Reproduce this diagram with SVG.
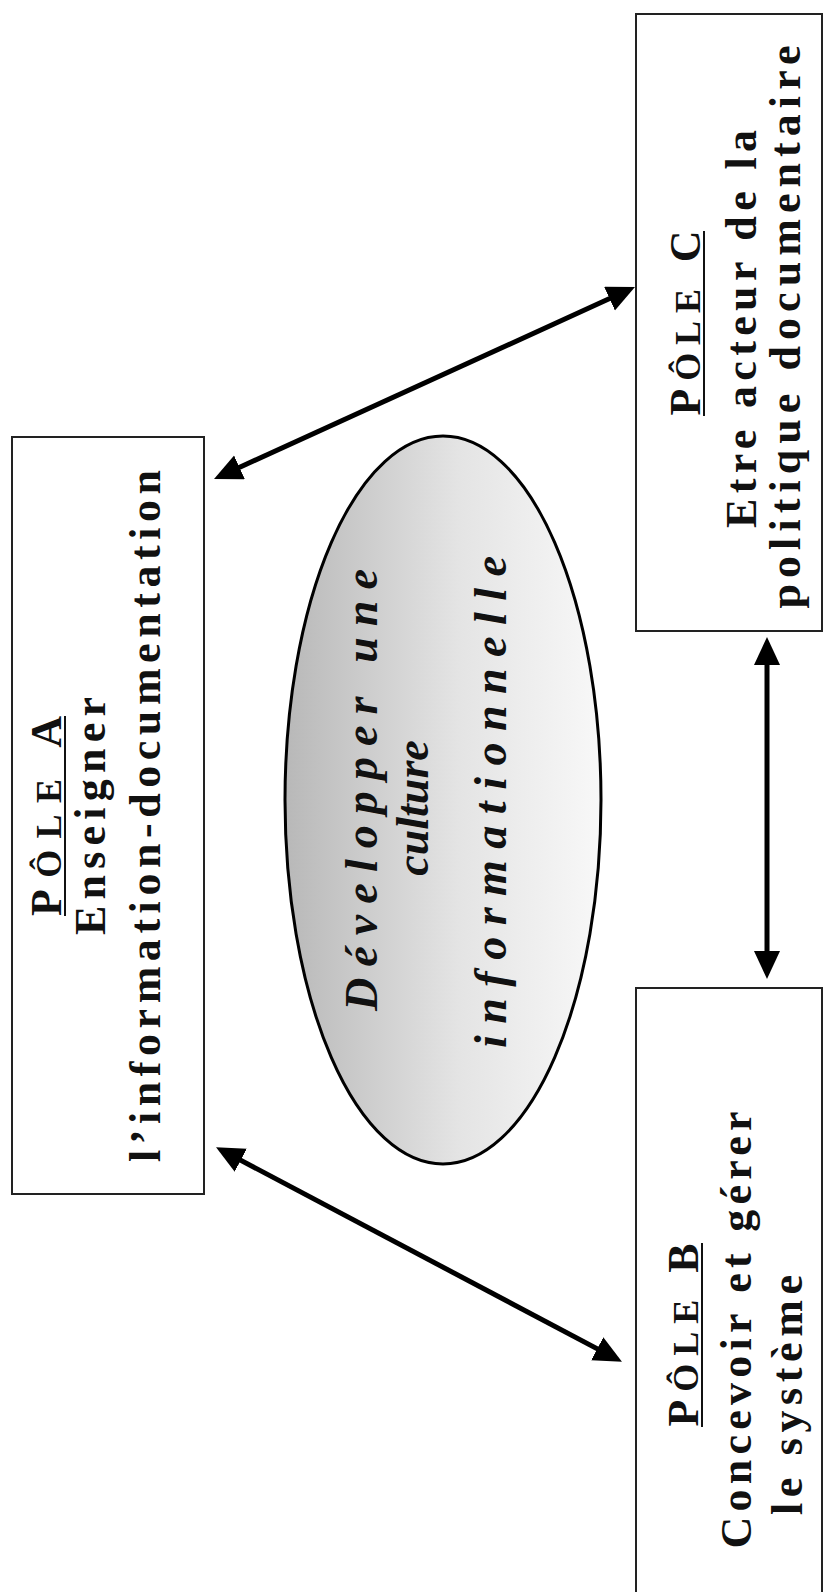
<svg xmlns="http://www.w3.org/2000/svg" width="823" height="1592" viewBox="0 0 823 1592">
<defs>
<linearGradient id="g" x1="0" y1="0" x2="1" y2="0">
<stop offset="0" stop-color="#b8b8b8"/>
<stop offset="0.55" stop-color="#e4e4e4"/>
<stop offset="1" stop-color="#f8f8f8"/>
</linearGradient>
<marker id="ah" markerUnits="userSpaceOnUse" markerWidth="30" markerHeight="28" refX="20" refY="13" orient="auto-start-reverse">
<path d="M0,0 L28,13 L0,26 z" fill="#000"/>
</marker>
<style>
.box{fill:#fff;stroke:#222;stroke-width:2}
.t{font-family:"Liberation Serif","Times New Roman",serif;font-weight:bold;font-size:44px;fill:#111;text-anchor:middle}
.sc{font-size:36px}
.e{font-family:"Liberation Serif","Times New Roman",serif;font-weight:bold;font-style:italic;font-size:46px;fill:#111;text-anchor:middle}
.ul{stroke:#111;stroke-width:2}
.c{stroke:#000;stroke-width:5;fill:none;marker-start:url(#ah);marker-end:url(#ah)}
</style>
</defs>
<rect width="823" height="1592" fill="#fff"/>
<g id="connectors">
<line class="c" x1="221.3" y1="475.7" x2="627.7" y2="290.3"/>
<line class="c" x1="223.1" y1="1150.9" x2="614.9" y2="1358.1"/>
<line class="c" x1="767" y1="645" x2="767" y2="971"/>
</g>
<g id="poleA">
<rect class="box" x="12" y="437" width="192" height="757"/>
<text class="t" transform="translate(61,816) rotate(-90)" textLength="200" lengthAdjust="spacing">P<tspan class="sc">ÔLE</tspan> A</text>
<line class="ul" x1="65" y1="916" x2="65" y2="716"/>
<text class="t" transform="translate(105,816) rotate(-90)" textLength="238" lengthAdjust="spacing">Enseigner</text>
<text class="t" transform="translate(160,816) rotate(-90)" textLength="692" lengthAdjust="spacing">l’information-documentation</text>
</g>
<g id="poleC">
<rect class="box" x="636" y="14" width="186" height="617"/>
<text class="t" transform="translate(700,323) rotate(-90)" textLength="185" lengthAdjust="spacing">P<tspan class="sc">ÔLE</tspan> C</text>
<line class="ul" x1="704" y1="416" x2="704" y2="231"/>
<text class="t" transform="translate(756,329) rotate(-90)" textLength="398" lengthAdjust="spacing">Etre acteur de la</text>
<text class="t" transform="translate(800,327) rotate(-90)" textLength="563" lengthAdjust="spacing">politique documentaire</text>
</g>
<g id="poleB">
<rect class="box" x="636" y="988" width="186" height="620"/>
<text class="t" transform="translate(698,1335) rotate(-90)" textLength="183" lengthAdjust="spacing">P<tspan class="sc">ÔLE</tspan> B</text>
<line class="ul" x1="702" y1="1427" x2="702" y2="1243"/>
<text class="t" transform="translate(751,1330) rotate(-90)" textLength="437" lengthAdjust="spacing">Concevoir et gérer</text>
<text class="t" transform="translate(802,1395) rotate(-90)" textLength="240" lengthAdjust="spacing">le système</text>
</g>
<g id="centre">
<ellipse cx="443" cy="800" rx="158" ry="364" fill="url(#g)" stroke="#000" stroke-width="3"/>
<text class="e" transform="translate(377,790) rotate(-90)" textLength="442" lengthAdjust="spacing">Développer une</text>
<text class="e" transform="translate(428,808) rotate(-90)">culture</text>
<text class="e" transform="translate(506,802) rotate(-90)" textLength="492" lengthAdjust="spacing">informationnelle</text>
</g>
</svg>
